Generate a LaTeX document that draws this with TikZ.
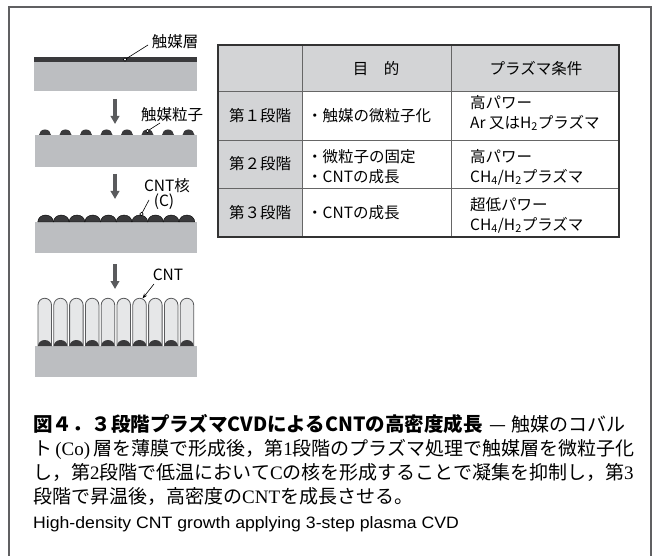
\documentclass[tikz,border=0pt]{standalone}
\usepackage{fontspec}
\usepackage{graphicx}
\usetikzlibrary{arrows.meta}
\setmainfont{Noto Sans CJK JP}
\newfontfamily\lserif{Liberation Serif}
\newfontfamily\lsans{Liberation Sans}
\XeTeXlinebreaklocale "ja"
\XeTeXlinebreakskip=0pt plus 3pt minus 0.6pt

\definecolor{subgray}{HTML}{BCBEC1}
\definecolor{catdark}{HTML}{3A3A3C}
\definecolor{cellgray}{HTML}{D3D4D6}
\definecolor{tubefill}{HTML}{E6E7E8}
\definecolor{arrowgray}{HTML}{5A5B5D}
\definecolor{framegray}{HTML}{606062}

\tikzset{
  substrate/.style={fill=subgray, draw=none},
  stagearrow/.style={draw=arrowgray, line width=3.5pt, -{Triangle[width=8.5pt,length=8pt]}},
  leader/.style={draw=black, line width=0.6pt},
  dotmark/.style={circle, draw=black, fill=white, line width=0.5pt, inner sep=0pt, minimum size=3.4pt},
  lbl/.style={font=\fontsize{15.5}{18}\selectfont, inner sep=0pt},
  cell/.style={font=\fontsize{15.5}{20}\selectfont, inner sep=0pt, align=left},
  capline/.style={anchor=base west, inner sep=0pt, font=\fontsize{19}{22}\selectfont},
}

\begin{document}
\begin{tikzpicture}[x=1pt, y=-1pt]
  \useasboundingbox (0,0) rectangle (653,556);
  \fill[white] (0,0) rectangle (653,556);

  % outer frame, open at the bottom
  \draw[framegray, line width=1.2pt] (9,556) -- (9,7) -- (651,7) -- (651,556);

  % ---- step 0: continuous catalyst film ----
  \fill[substrate] (34,62) rectangle (197,91);
  \fill[catdark] (34,57) rectangle (197,62);
  \node[lbl] (lcat) at (175,42) {触媒層};
  \coordinate (pcat) at (125,59.5);
  \coordinate (ecat) at (148,45);
  \draw[leader] (pcat) -- (ecat);
  \node[dotmark] at (pcat) {};

  % arrow 1
  \coordinate (a1s) at (115,99);
  \coordinate (a1e) at (115,124);
  \draw[stagearrow] (a1s) -- (a1e);

  % ---- step 1: catalyst particles ----
  \fill[substrate] (35,135) rectangle (197,167);
  \foreach \i in {0,...,7}{
    \pgfmathsetmacro{\cx}{45+20.5*\i}
    \fill[catdark] (\cx-6,135) arc[start angle=180, end angle=0, x radius=6pt, y radius=5.5pt] -- cycle;
  }
  \node[lbl] (lpart) at (172,115) {触媒粒子};
  \coordinate (ppart) at (147.5,131);
  \coordinate (epart) at (160,123);
  \draw[leader] (ppart) -- (epart);
  \node[dotmark] at (ppart) {};

  % arrow 2
  \coordinate (a2s) at (115,174);
  \coordinate (a2e) at (115,199);
  \draw[stagearrow] (a2s) -- (a2e);

  % ---- step 2: carbon nuclei ----
  \fill[substrate] (35,222) rectangle (197,253);
  \foreach \i in {0,...,9}{
    \pgfmathsetmacro{\cx}{45.6+15.7*\i}
    \filldraw[fill=catdark, draw=black, line width=0.4pt] (\cx-7.85,222) arc[start angle=180, end angle=0, x radius=7.85pt, y radius=7pt] -- cycle;
  }
  \node[lbl] (lnuc) at (167,186) {CNT核};
  \node[lbl] (lc) at (164,202) {(C)};
  \coordinate (pnuc) at (141.5,214);
  \coordinate (enuc) at (149,200);
  \draw[leader] (pnuc) -- (enuc);
  \node[dotmark] at (pnuc) {};

  % arrow 3
  \coordinate (a3s) at (115,264);
  \coordinate (a3e) at (115,289);
  \draw[stagearrow] (a3s) -- (a3e);

  % ---- step 3: grown nanotubes ----
  \fill[substrate] (35,346) rectangle (197,377);
  \foreach \i in {0,...,9}{
    \pgfmathsetmacro{\cx}{44.75+15.8*\i}
    \filldraw[fill=tubefill, draw=arrowgray, line width=0.8pt]
      (\cx-6.75,346) -- (\cx-6.75,305) arc[start angle=180, end angle=0, radius=6.75pt] -- (\cx+6.75,346);
    \fill[catdark] (\cx-6.75,346) arc[start angle=180, end angle=0, x radius=6.75pt, y radius=6pt] -- cycle;
  }
  \node[lbl] (lcnt) at (168,275) {CNT};
  \coordinate (ecnts) at (154,284);
  \coordinate (ecnte) at (142.5,298.5);
  \draw[leader, -{Stealth[length=5pt,width=3.5pt]}] (ecnts) -- (ecnte);

  % ---- table of plasma steps ----
  \fill[cellgray] (218,45) rectangle (619,91);
  \fill[cellgray] (218,91) rectangle (302,237);
  \draw[gray!80!black, line width=0.8pt] (218,91) -- (619,91) (218,140) -- (619,140) (218,188) -- (619,188)
        (302,45) -- (302,237) (451,45) -- (451,237);
  \draw[black!80, line width=1.6pt] (218,45) rectangle (619,237);

  \node[cell] (h2) at (376,69) {目　的};
  \node[cell] (h3) at (536,69) {プラズマ条件};

  \node[cell] (r1) at (260,116) {第１段階};
  \node[cell] (r2) at (260,164) {第２段階};
  \node[cell] (r3) at (260,213) {第３段階};

  \node[cell, anchor=west] (p1) at (307,116) {・触媒の微粒子化};
  \node[cell, anchor=west] (p2) at (307,167) {・微粒子の固定\\・CNTの成長};
  \node[cell, anchor=west] (p3) at (307,213) {・CNTの成長};

  \node[cell, anchor=west] (c1) at (470,113) {高パワー\\Ar 又はH\textsubscript{2}プラズマ};
  \node[cell, anchor=west] (c2) at (470,167) {高パワー\\CH\textsubscript{4}/H\textsubscript{2}プラズマ};
  \node[cell, anchor=west] (c3) at (470,215) {超低パワー\\CH\textsubscript{4}/H\textsubscript{2}プラズマ};

  % ---- caption ----
  \node[capline] (cap1) at (33,431) {\makebox[589pt][s]{{\fontsize{19.5}{22}\selectfont\bfseries 図４．３段階プラズマCVDによるCNTの高密度成長}\hspace{7pt}—\hspace{5pt}触媒のコバル}};
  \node[capline] (cap2) at (33,455) {\makebox[589pt][s]{ト\,{\lserif (Co)}\,層を薄膜で形成後，第{\lserif 1}段階のプラズマ処理で触媒層を微粒子化}};
  \node[capline] (cap3) at (33,479) {\makebox[589pt][s]{し，第{\lserif 2}段階で低温において{\lserif C}の核を形成することで凝集を抑制し，第{\lserif 3}}};
  \node[capline] (cap4) at (33,503) {段階で昇温後，高密度の{\lserif CNT}を成長させる。};
  \node[anchor=base west, inner sep=0pt, font=\lsans\fontsize{16.5}{19}\selectfont] (capen) at (33,528) {\scalebox{1.07}[1]{High-density CNT growth applying 3-step plasma CVD}};
\end{tikzpicture}
\end{document}
